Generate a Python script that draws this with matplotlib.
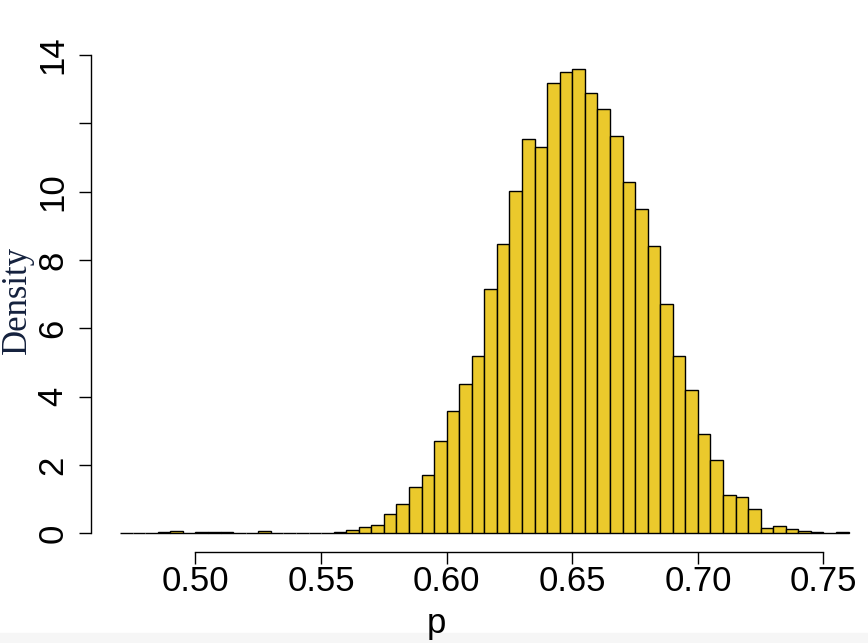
import matplotlib
matplotlib.use("Agg")
import matplotlib.pyplot as plt
import numpy as np

# histogram of p, density scale, bins of width 0.005 from 0.47 to 0.76
bin_start = 0.47
bin_width = 0.005
density = [0.01, 0.01, 0.005, 0.03, 0.08, 0.01, 0.04, 0.03, 0.04, 0.01,
           0.01, 0.08, 0.02, 0.005, 0.02, 0.01, 0.02, 0.04, 0.09, 0.18,
           0.23, 0.58, 0.86, 1.35, 1.70, 2.71, 3.58, 4.38, 5.19, 7.15,
           8.46, 10.02, 11.54, 11.31, 13.18, 13.49, 13.59, 12.90, 12.42, 11.63,
           10.29, 9.50, 8.41, 6.70, 5.19, 4.20, 2.90, 2.14, 1.13, 1.05,
           0.72, 0.16, 0.22, 0.12, 0.07, 0.03, 0.01, 0.03]
x_ticks = [0.50, 0.55, 0.60, 0.65, 0.70, 0.75]
x_tick_labels = ["0.50", "0.55", "0.60", "0.65", "0.70", "0.75"]
y_ticks = [0, 2, 4, 6, 8, 10, 12, 14]
y_tick_labels = ["0", "2", "4", "6", "8", "10", "", "14"]

edges = bin_start + bin_width * np.arange(len(density))

W, H = 868, 643
fig = plt.figure(figsize=(W / 100, H / 100), dpi=100)

# faint grey strip at the very bottom (screenshot edge)
fig.patches.append(plt.Rectangle((0, 0), 1, 10 / H, transform=fig.transFigure,
                                 color="#f6f6f6", zorder=0))

left, top, bottom = 91, 50.5, 551.8
ax = fig.add_axes([left / W, (H - bottom) / H, (W - left) / W, (bottom - top) / H])
ax.patch.set_alpha(0)

ax.bar(edges, density, width=bin_width, align="edge", color="#EBC92C",
       edgecolor="black", linewidth=1.0)

ax.set_xlim(0.4584, 0.4584 + (W - left) / 2512)
ax.set_ylim(-0.54, 14.13)

for s in ["top", "right"]:
    ax.spines[s].set_visible(False)
ax.spines["left"].set_bounds(0, 14)
ax.spines["bottom"].set_bounds(0.50, 0.75)
for s in ["left", "bottom"]:
    ax.spines[s].set_linewidth(1.0)

ax.set_xticks(x_ticks)
ax.set_xticklabels(x_tick_labels, family="Liberation Sans", fontsize=25)
ax.set_yticks(y_ticks)
ax.set_yticklabels(y_tick_labels, family="Liberation Sans", fontsize=25,
                   rotation=90, va="center")
ax.tick_params(axis="both", length=8.5, width=1.0, direction="out")
ax.tick_params(axis="x", pad=1)
ax.tick_params(axis="y", pad=7)

fig.text(436 / W, 1 - 624 / H, "p", family="Liberation Sans", fontsize=25,
         ha="center", va="center")
fig.text(17 / W, 1 - 300 / H, "Density", family="Liberation Serif", fontsize=25,
         color="#14213d", rotation=90, ha="center", va="center")

fig.savefig("out.png", dpi=100)
